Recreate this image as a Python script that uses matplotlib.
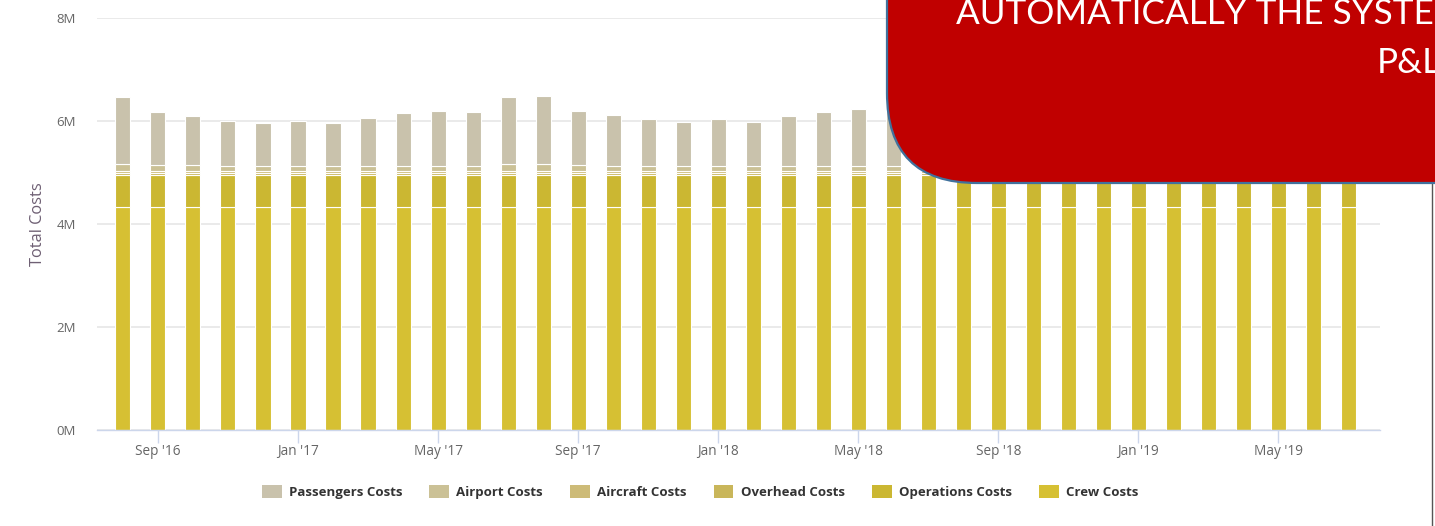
import numpy as np
import pandas as pd
import matplotlib
matplotlib.use('Agg')
import matplotlib.pyplot as plt
import matplotlib.patches as mpatches
from matplotlib.lines import Line2D
from matplotlib.transforms import IdentityTransform

# monthly P&L cost breakdown (millions)
months = pd.date_range('2016-08-01', periods=36, freq='MS')

crew = [4.33, 4.33, 4.33, 4.33, 4.33, 4.33, 4.33, 4.33, 4.33, 4.33, 4.33, 4.33,
        4.33, 4.33, 4.33, 4.33, 4.33, 4.33, 4.33, 4.33, 4.33, 4.33, 4.33, 4.33,
        4.33, 4.33, 4.33, 4.33, 4.33, 4.33, 4.33, 4.33, 4.33, 4.33, 4.33, 4.33]
operations = [0.62, 0.62, 0.62, 0.62, 0.62, 0.62, 0.62, 0.62, 0.62, 0.62, 0.62, 0.62,
              0.62, 0.62, 0.62, 0.62, 0.62, 0.62, 0.62, 0.62, 0.62, 0.62, 0.62, 0.62,
              0.62, 0.62, 0.62, 0.62, 0.62, 0.62, 0.62, 0.62, 0.62, 0.62, 0.62, 0.62]
overhead = [0.04, 0.04, 0.04, 0.04, 0.04, 0.04, 0.04, 0.04, 0.04, 0.04, 0.04, 0.04,
            0.04, 0.04, 0.04, 0.04, 0.04, 0.04, 0.04, 0.04, 0.04, 0.04, 0.04, 0.04,
            0.04, 0.04, 0.04, 0.04, 0.04, 0.04, 0.04, 0.04, 0.04, 0.04, 0.04, 0.04]
aircraft = [0.04, 0.04, 0.04, 0.04, 0.04, 0.04, 0.04, 0.04, 0.04, 0.04, 0.04, 0.04,
            0.04, 0.04, 0.04, 0.04, 0.04, 0.04, 0.04, 0.04, 0.04, 0.04, 0.04, 0.04,
            0.04, 0.04, 0.04, 0.04, 0.04, 0.04, 0.04, 0.04, 0.04, 0.04, 0.04, 0.04]
airport = [0.14, 0.12, 0.12, 0.10, 0.10, 0.10, 0.10, 0.10, 0.10, 0.10, 0.10, 0.13,
           0.14, 0.11, 0.10, 0.10, 0.10, 0.10, 0.10, 0.10, 0.10, 0.10, 0.10, 0.13,
           0.14, 0.11, 0.10, 0.10, 0.10, 0.10, 0.10, 0.10, 0.10, 0.10, 0.10, 0.13]
passengers = [1.30, 1.03, 0.95, 0.87, 0.84, 0.87, 0.84, 0.92, 1.02, 1.07, 1.04, 1.30,
              1.31, 1.05, 0.99, 0.90, 0.86, 0.90, 0.86, 0.97, 1.04, 1.10, 1.15, 1.34,
              1.35, 1.08, 1.01, 0.92, 0.88, 0.92, 0.88, 0.99, 1.06, 1.12, 1.11, 1.34]

series = [
    ('Crew Costs', crew, '#d6c033'),
    ('Operations Costs', operations, '#cbb732'),
    ('Overhead Costs', overhead, '#c9b65a'),
    ('Aircraft Costs', aircraft, '#cdbb78'),
    ('Airport Costs', airport, '#cbc196'),
    ('Passengers Costs', passengers, '#c9c2ac'),
]

plt.rcParams['font.family'] = ['Open Sans', 'DejaVu Sans']

W, H = 1435, 526
fig = plt.figure(figsize=(W / 100, H / 100), dpi=100)
ax = fig.add_axes([97 / W, 96 / H, (1380 - 97) / W, 412 / H])

x = np.arange(len(months))
bottom = np.zeros(len(months))
handles = {}
for name, vals, col in series:
    vals = np.array(vals)
    ax.bar(x, vals, width=0.43, bottom=bottom, color=col,
           edgecolor='white', linewidth=0.8, zorder=3)
    handles[name] = mpatches.Patch(facecolor=col, edgecolor='none')
    bottom += vals

ax.set_xlim(-0.74, 35.9)
ax.set_ylim(0, 8)
ax.set_yticks([0, 2, 4, 6, 8])
ax.set_yticklabels(['0M', '2M', '4M', '6M', '8M'])
ax.grid(axis='y', color='#e6e6e6', linewidth=1.2, zorder=0)
ax.tick_params(axis='y', length=0, pad=15, labelsize=9.5, labelcolor='#666666')

tick_idx = [i for i, m in enumerate(months) if m.month in (1, 5, 9)]
ax.set_xticks(tick_idx)
ax.set_xticklabels([months[i].strftime("%b '%y") for i in tick_idx])
ax.tick_params(axis='x', length=9, width=1, color='#ccd6eb', pad=1,
               labelsize=9.8, labelcolor='#666666')

for s in ['top', 'right', 'left']:
    ax.spines[s].set_visible(False)
ax.spines['bottom'].set_color('#ccd6eb')
ax.spines['bottom'].set_linewidth(1)
ax.spines['bottom'].set_zorder(4)

ax.set_ylabel('Total Costs', fontsize=11.8, color='#6e5f73')
ax.yaxis.set_label_coords((46 - 97) / (1380 - 97), 0.5)

order = ['Passengers Costs', 'Airport Costs', 'Aircraft Costs',
         'Overhead Costs', 'Operations Costs', 'Crew Costs']
leg = fig.legend([handles[n] for n in order], order, loc='center',
                 bbox_to_anchor=(700 / W, 1 - 492 / H), ncol=6, frameon=False,
                 prop={'weight': 'bold', 'size': 9.5}, handlelength=1.5,
                 handleheight=1.2, handletextpad=0.55, columnspacing=2.05)
for t in leg.get_texts():
    t.set_color('#333333')

# red call-out box over the top right
box = mpatches.FancyBboxPatch((887, 343), 900, 400,
                              boxstyle='round,pad=0,rounding_size=90',
                              facecolor='#c00000', edgecolor='#41719c',
                              linewidth=1.6, transform=IdentityTransform(),
                              zorder=10)
fig.add_artist(box)
fig.text(956 / W, 1 - 24 / H, 'AUTOMATICALLY THE SYSTEM', color='white',
         fontsize=25.3, family='Lato', va='baseline', ha='left', zorder=11)
fig.text(1377 / W, 1 - 73 / H, 'P&L', color='white',
         fontsize=25.3, family='Lato', va='baseline', ha='left', zorder=11)

# thin frame edge of the slide at the right
fig.add_artist(Line2D([1432, 1432], [0, 343], color='#555555', linewidth=1,
                      transform=IdentityTransform(), zorder=9))

fig.savefig('out.png', dpi=100)
